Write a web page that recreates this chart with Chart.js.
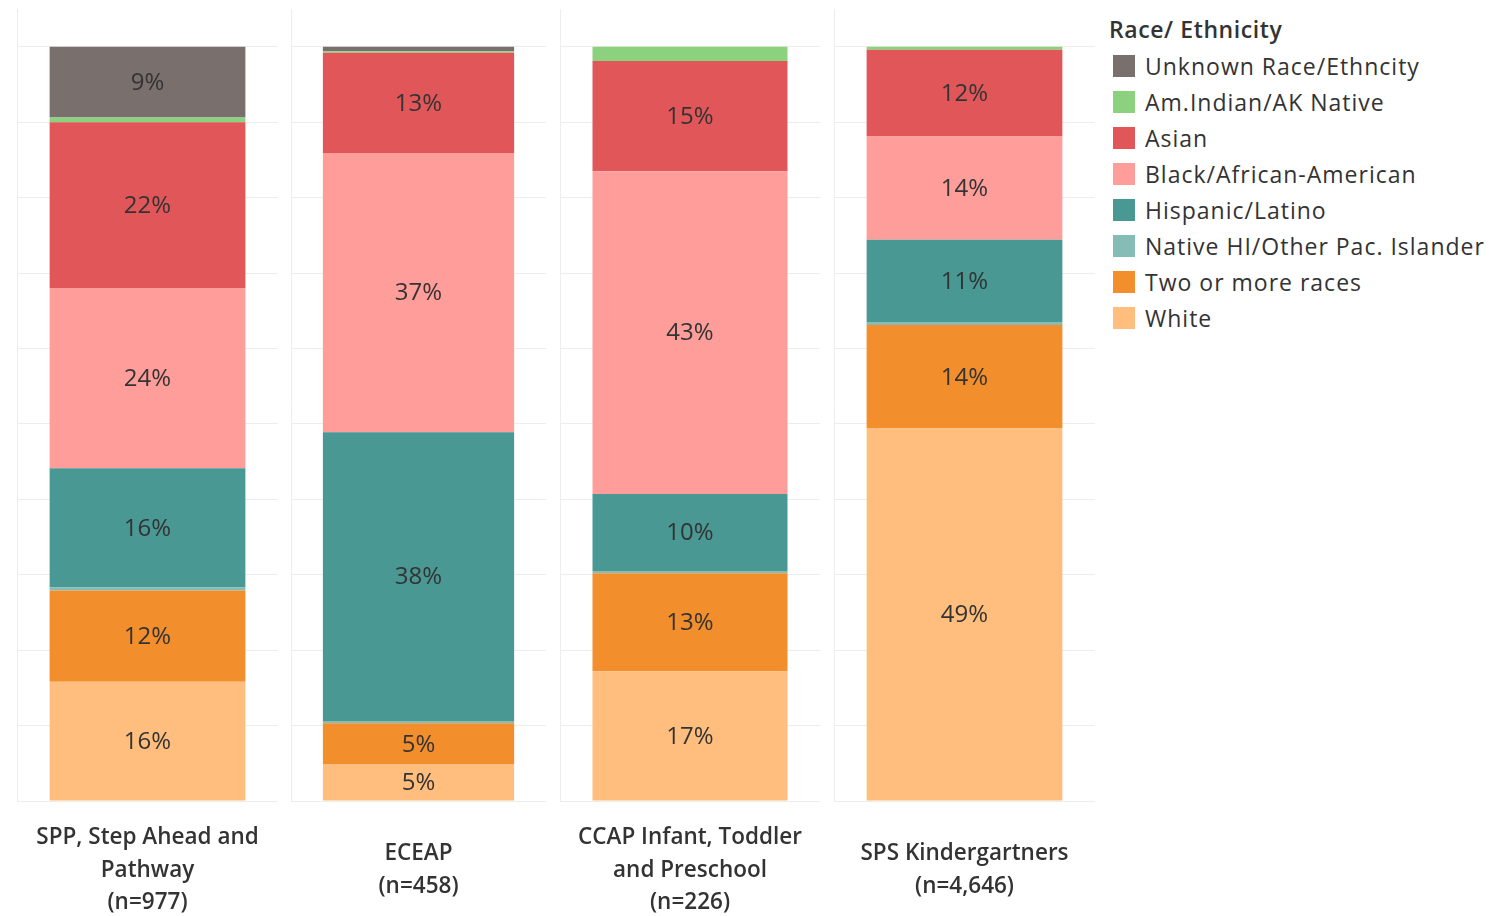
<!DOCTYPE html>
<html>
<head>
<meta charset="utf-8">
<script src="https://cdn.jsdelivr.net/npm/chart.js@4.4.1/dist/chart.umd.min.js"></script>
<style>
  body { margin: 0; background: #fff; font-family: "Open Sans", sans-serif; }
  #wrap { position: relative; width: 1496px; height: 916px; }
  .panel { position: absolute; top: 0; height: 916px; }
  #legend { position: absolute; left: 1109px; top: 14px; color: #333; font-size: 23px; letter-spacing: 1px; }
  #legend .title { font-weight: 600; letter-spacing: 0.6px; margin-bottom: 3px; font-size: 23px; line-height: 31px; }
  #legend .item { height: 36px; display: flex; align-items: center; white-space: nowrap; }
  #legend .sw { width: 22px; height: 22px; margin-left: 4px; margin-right: 10px; }
</style>
</head>
<body>
<div id="wrap">
  <div class="panel" style="left:17px;width:261px"><canvas id="c0"></canvas></div>
  <div class="panel" style="left:291px;width:255px"><canvas id="c1"></canvas></div>
  <div class="panel" style="left:560px;width:260px"><canvas id="c2"></canvas></div>
  <div class="panel" style="left:834px;width:261px"><canvas id="c3"></canvas></div>
  <div id="legend"></div>
</div>
<script>
// programs (x categories), one panel each
const programs = [
    ["SPP, Step Ahead and", "Pathway", "(n=977)"],
    ["ECEAP", "(n=458)"],
    ["CCAP Infant, Toddler", "and Preschool", "(n=226)"],
    ["SPS Kindergartners", "(n=4,646)"]
];

// percent of each program
const unknownRace = [9.4, 0.6, 0, 0];
const amIndian = [0.6, 0.2, 1.9, 0.4];
const asian = [22.0, 13.3, 14.6, 11.5];
const black = [23.9, 37.0, 42.8, 13.7];
const hispanic = [15.8, 38.3, 10.2, 10.9];
const nativeHI = [0.4, 0.3, 0.3, 0.4];
const twoOrMore = [12.1, 5.4, 13.0, 13.7];
const white = [15.8, 4.9, 17.2, 49.4];

const groupNames = ["Unknown Race/Ethncity", "Am.Indian/AK Native", "Asian", "Black/African-American",
    "Hispanic/Latino", "Native HI/Other Pac. Islander", "Two or more races", "White"];
const groupValues = [unknownRace, amIndian, asian, black, hispanic, nativeHI, twoOrMore, white];
const groupColors = ["#79706e", "#8cd17d", "#e15759", "#ff9d9a", "#499894", "#86bcb6", "#f28e2b", "#ffbe7d"];

const gridTicks = [0, 10, 20, 30, 40, 50, 60, 70, 80, 90, 100];

const FONT = '"Open Sans", sans-serif';

// percent labels in the middle of each segment
const segmentLabels = {
    id: 'segmentLabels',
    afterDatasetsDraw: function(chart) {
        const ctx = chart.ctx;
        ctx.save();
        ctx.font = '24px ' + FONT;
        ctx.fillStyle = '#333';
        ctx.textAlign = 'center';
        ctx.textBaseline = 'middle';
        chart.data.datasets.forEach(function(ds, i) {
            const v = ds.data[0];
            if (v < 4.5) return;
            const bar = chart.getDatasetMeta(i).data[0];
            ctx.fillText(Math.round(v) + '%', bar.x, (bar.y + bar.base) / 2 + 1);
        });
        ctx.restore();
    }
};

programs.forEach(function(label, p) {
    // bottom of stack first
    const datasets = [];
    for (let g = groupNames.length - 1; g >= 0; g--) {
        datasets.push({
            label: groupNames[g],
            data: [groupValues[g][p]],
            backgroundColor: groupColors[g],
            borderWidth: 0,
            barPercentage: 0.75,
            categoryPercentage: 1
        });
    }

    new Chart(document.getElementById('c' + p), {
        type: 'bar',
        data: { labels: [label], datasets: datasets },
        plugins: [segmentLabels],
        options: {
            responsive: true,
            maintainAspectRatio: false,
            animation: false,
            layout: { padding: { top: 9, left: 0, right: 0, bottom: 0 } },
            plugins: {
                legend: { display: false },
                tooltip: { enabled: false }
            },
            scales: {
                x: {
                    stacked: true,
                    grid: { display: false, drawTicks: false },
                    border: { display: false },
                    ticks: {
                        color: '#333',
                        font: { family: FONT, size: 22.5, weight: 600, lineHeight: 1.43 },
                        padding: 21 + (3 - label.length) * 16,
                        maxRotation: 0,
                        autoSkip: false
                    },
                    afterFit: function(scale) {
                        scale.height = 115;
                        scale.paddingLeft = 0;
                        scale.paddingRight = 0;
                    }
                },
                y: {
                    stacked: true,
                    min: 0,
                    max: 105,
                    ticks: { display: false },
                    grid: { color: '#ededed', drawTicks: false },
                    border: { display: true, color: '#ededed' },
                    afterBuildTicks: function(scale) {
                        scale.ticks = gridTicks.map(function(v) { return { value: v }; });
                    },
                    afterFit: function(scale) { scale.width = 0; }
                }
            }
        }
    });
});

// legend
const legend = document.getElementById('legend');
let html = '<div class="title">Race/ Ethnicity</div>';
groupNames.forEach(function(name, g) {
    html += '<div class="item"><span class="sw" style="background:' + groupColors[g] + '"></span>' + name + '</div>';
});
legend.innerHTML = html;
</script>
</body>
</html>
